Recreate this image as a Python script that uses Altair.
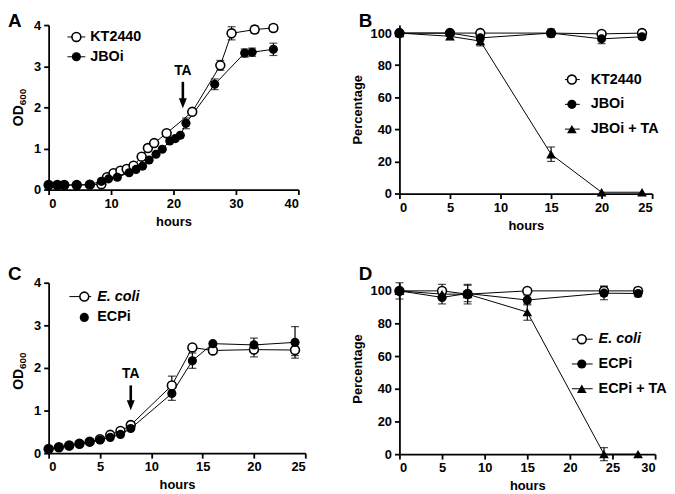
import altair as alt
import pandas as pd

FONT = "Liberation Sans"

# ---------------- Panel A: OD600 vs hours ----------------
a_kt_hours = [0, 1.4, 2.5, 4.5, 6.6, 8.45, 9.35, 10.4, 11.5, 12.5, 13.6, 14.9, 15.9, 16.9, 18.9, 23.0, 27.5, 29.3, 33.0, 36.0]
a_kt_od = [0.11, 0.11, 0.11, 0.11, 0.12, 0.13, 0.30, 0.40, 0.46, 0.50, 0.58, 0.80, 1.01, 1.13, 1.37, 1.89, 3.02, 3.80, 3.89, 3.93]
a_kt_err = [0, 0, 0, 0, 0, 0, 0, 0, 0, 0, 0, 0, 0, 0, 0.05, 0.05, 0.12, 0.16, 0.09, 0.08]
a_jb_hours = [0, 1.4, 2.5, 4.5, 6.6, 8.45, 9.6, 11.0, 12.9, 14.0, 15.05, 16.1, 17.2, 18.2, 19.4, 20.3, 21.1, 22.0, 26.6, 31.4, 32.6, 36.0]
a_jb_od = [0.11, 0.11, 0.11, 0.11, 0.12, 0.20, 0.26, 0.30, 0.41, 0.49, 0.57, 0.72, 0.86, 0.98, 1.18, 1.24, 1.32, 1.61, 2.56, 3.32, 3.34, 3.41]
a_jb_err = [0, 0, 0, 0, 0, 0, 0, 0, 0, 0, 0, 0, 0, 0, 0, 0, 0, 0.13, 0.13, 0.10, 0.10, 0.15]

# ---------------- Panel B: Percentage vs hours ----------------
b_hours = [0, 5, 8, 15, 20, 24]
b_kt = [100, 100, 100, 100, 99.5, 100]
b_kt_err = [0, 0, 0, 1.5, 0, 2]
b_jb = [100, 100, 97, 100, 96.4, 97.7]
b_jb_err = [0, 1, 2, 2.5, 3, 1.5]
b_ta = [100, 98, 95, 24.5, 0.8, 0.8]
b_ta_err = [0, 2, 3, 4.5, 0, 0]

# ---------------- Panel C: OD600 vs hours ----------------
c_hours = [0, 1, 2, 3, 4, 5, 6, 7, 8, 12, 14, 16, 20, 24]
c_ec = [0.10, 0.14, 0.18, 0.22, 0.27, 0.33, 0.43, 0.52, 0.66, 1.59, 2.48, 2.41, 2.43, 2.42]
c_ec_err = [0, 0, 0, 0, 0, 0, 0, 0, 0, 0.22, 0, 0, 0.17, 0.13]
c_ecp = [0.09, 0.14, 0.17, 0.22, 0.26, 0.31, 0.37, 0.44, 0.58, 1.40, 2.17, 2.57, 2.54, 2.60]
c_ecp_err = [0, 0, 0, 0, 0, 0, 0, 0, 0, 0.16, 0.18, 0, 0.16, 0.37]

# ---------------- Panel D: Percentage vs hours ----------------
d_hours = [0, 5, 8, 15, 24, 28]
d_ec = [100, 100, 98, 100, 100, 100]
d_ec_err = [5, 4, 6, 0, 3, 2]
d_ecp = [100, 96, 98.4, 94.4, 98.6, 98.4]
d_ecp_err = [0, 4, 5, 3, 4, 2]
d_ta = [100, 98, 98, 87, 0, 0]
d_ta_err = [0, 0, 0, 5, 4, 0]

# TA annotations (hours, arrow top, shaft end, arrow tip, label baseline)
ta_a = {"hours": [21.5], "top": [2.62], "shaft": [2.10], "tip": [1.98], "label_y": [2.78], "label": ["TA"]}
ta_c = {"hours": [8.0], "top": [1.59], "shaft": [1.13], "tip": [1.01], "label_y": [1.76], "label": ["TA"]}

ARROW_HEAD = "M-1,-2.5L1,-2.5L0,0Z"


def frame(hours, vals, errs, name):
    return pd.DataFrame({"hours": hours, "value": vals, "err": errs, "series": name})


def panel(df, order, kinds, xdom, xticks, ydom, yticks, w, h, ytitle, ytp,
          letter, letter_y, letter_base, legend, ta=None, od_title=None):
    xenc = alt.X("hours:Q", scale=alt.Scale(domain=xdom, nice=False, zero=False),
                 axis=alt.Axis(values=xticks, title="hours", format="d"))
    if ytitle is None:
        yax = alt.Axis(values=yticks, title=None, format="d")
    else:
        yax = alt.Axis(values=yticks, title=ytitle, titlePadding=ytp, format="d")
    ysc = alt.Scale(domain=ydom, nice=False, zero=False)

    base = alt.Chart(df)
    layers = []
    layers.append(base.mark_line(color="black", strokeWidth=1).encode(
        x=xenc, y=alt.Y("value:Q", scale=ysc, axis=yax), detail="series:N"))
    layers.append(base.transform_filter("datum.err > 0").transform_calculate(
        lo="datum.value - datum.err", hi="datum.value + datum.err"
    ).mark_errorbar(ticks=True, color="black", size=8, thickness=1.2).encode(
        x=xenc, y=alt.Y("lo:Q", scale=ysc, axis=yax), y2="hi:Q"))
    for name, kind in zip(order, kinds):
        sub = base.transform_filter(alt.datum.series == name)
        if kind == "open":
            m = sub.mark_circle(fill="white", stroke="black", strokeWidth=1.6, size=80, opacity=1)
        elif kind == "filled":
            m = sub.mark_circle(color="black", size=85, opacity=1)
        else:
            m = sub.mark_point(shape="triangle-up", filled=True, color="black", size=95, opacity=1)
        layers.append(m.encode(x=xenc, y=alt.Y("value:Q", scale=ysc, axis=yax)))

    # TA arrow annotation
    if ta is not None:
        tdf = pd.DataFrame(ta)
        tb = alt.Chart(tdf)
        layers.append(tb.mark_rule(color="black", strokeWidth=2.6).encode(
            x=xenc, y=alt.Y("top:Q", scale=ysc, axis=yax), y2="shaft:Q"))
        layers.append(tb.mark_point(shape=ARROW_HEAD, filled=True, color="black", size=64, opacity=1).encode(
            x=xenc, y=alt.Y("tip:Q", scale=ysc, axis=yax)))
        layers.append(tb.mark_text(font=FONT, fontSize=14, fontWeight="bold", baseline="alphabetic",
                                   align="center", color="black").encode(
            x=xenc, y=alt.Y("label_y:Q", scale=ysc, axis=yax), text="label:N"))

    # manual legend: (label, kind, has_line, italic, y)
    lx0, lx1, cx, tx = legend["line"][0], legend["line"][1], legend["cx"], legend["tx"]
    for label, kind, has_line, italic, yy in legend["items"]:
        ldf = alt.Chart(pd.DataFrame({"label": [label]}))
        if has_line:
            layers.append(ldf.mark_rule(color="black", strokeWidth=1).encode(
                x=alt.value(lx0), x2=alt.value(lx1), y=alt.value(yy)))
        if kind == "open":
            sym = ldf.mark_circle(fill="white", stroke="black", strokeWidth=1.6, size=80, opacity=1)
        elif kind == "filled":
            sym = ldf.mark_circle(color="black", size=85, opacity=1)
        else:
            sym = ldf.mark_point(shape="triangle-up", filled=True, color="black", size=95, opacity=1)
        layers.append(sym.encode(x=alt.value(cx), y=alt.value(yy)))
        layers.append(ldf.mark_text(font=FONT, fontSize=14.5, fontWeight="bold", align="left",
                                    baseline="middle", color="black",
                                    fontStyle="italic" if italic else "normal").encode(
            x=alt.value(tx), y=alt.value(yy), text="label:N"))

    # OD600 axis title with subscript, as rotated text
    if od_title is not None:
        main_txt, sub_txt, bx, by, sy = od_title
        layers.append(alt.Chart(pd.DataFrame({"t": [main_txt]})).mark_text(
            font=FONT, fontSize=14, fontWeight="bold", angle=270, align="left",
            baseline="alphabetic", color="black").encode(
            x=alt.value(bx), y=alt.value(by), text="t:N"))
        layers.append(alt.Chart(pd.DataFrame({"t": [sub_txt]})).mark_text(
            font=FONT, fontSize=10, fontWeight="bold", angle=270, align="left",
            baseline="alphabetic", color="black").encode(
            x=alt.value(bx + 3), y=alt.value(sy), text="t:N"))

    # panel letter
    layers.append(alt.Chart(pd.DataFrame({"letter": [letter]})).mark_text(
        font=FONT, fontSize=19, fontWeight="bold", align="left", baseline=letter_base,
        color="black").encode(x=alt.value(-41), y=alt.value(letter_y), text="letter:N"))

    return alt.layer(*layers).properties(width=w, height=h)


dfA = pd.concat([frame(a_kt_hours, a_kt_od, a_kt_err, "KT2440"),
                 frame(a_jb_hours, a_jb_od, a_jb_err, "JBOi")])
dfB = pd.concat([frame(b_hours, b_kt, b_kt_err, "KT2440"),
                 frame(b_hours, b_jb, b_jb_err, "JBOi"),
                 frame(b_hours, b_ta, b_ta_err, "JBOi + TA")])
dfC = pd.concat([frame(c_hours, c_ec, c_ec_err, "E. coli"),
                 frame(c_hours, c_ecp, c_ecp_err, "ECPi")])
dfD = pd.concat([frame(d_hours, d_ec, d_ec_err, "E. coli"),
                 frame(d_hours, d_ecp, d_ecp_err, "ECPi"),
                 frame(d_hours, d_ta, d_ta_err, "ECPi + TA")])

pA = panel(dfA, ["KT2440", "JBOi"], ["open", "filled"], [0, 40], [0, 10, 20, 30, 40],
           [0, 4], [0, 1, 2, 3, 4], 252, 166, None, 0, "A", -13, "top",
           {"line": [19, 37], "cx": 28, "tx": 42,
            "items": [("KT2440", "open", True, False, 12), ("JBOi", "filled", True, False, 32)]},
           ta=ta_a, od_title=("OD", "600", -26, 102, 81))
pB = panel(dfB, ["KT2440", "JBOi", "JBOi + TA"], ["open", "filled", "tri"], [0, 25],
           [0, 5, 10, 15, 20, 25], [0, 105], [0, 20, 40, 60, 80, 100], 255, 170,
           "Percentage", 6, "B", -13, "top",
           {"line": [167, 182], "cx": 174, "tx": 193,
            "items": [("KT2440", "open", True, False, 55), ("JBOi", "filled", True, False, 80),
                      ("JBOi + TA", "tri", True, False, 105)]})
pC = panel(dfC, ["E. coli", "ECPi"], ["open", "filled"], [0, 25], [0, 5, 10, 15, 20, 25],
           [0, 4], [0, 1, 2, 3, 4], 259, 172, None, 0, "C", -3, "alphabetic",
           {"line": [21, 43], "cx": 36, "tx": 49,
            "items": [("E. coli", "open", True, True, 14), ("ECPi", "filled", False, False, 35)]},
           ta=ta_c, od_title=("OD", "600", -26, 108, 87))
pD = panel(dfD, ["E. coli", "ECPi", "ECPi + TA"], ["open", "filled", "tri"], [0, 30],
           [0, 5, 10, 15, 20, 25, 30], [0, 105], [0, 20, 40, 60, 80, 100], 258, 173,
           "Percentage", 6, "D", -3, "alphabetic",
           {"line": [174, 195], "cx": 184, "tx": 201,
            "items": [("E. coli", "open", True, True, 57), ("ECPi", "filled", True, False, 82),
                      ("ECPi + TA", "tri", True, False, 107)]})

chart = alt.concat(pA, pB, pC, pD, columns=2, spacing={"row": 90, "column": 95}).properties(
    padding={"top": 2, "left": 0, "right": 0, "bottom": 0}, bounds="flush"
).configure_view(stroke=None).configure_axis(
    labelFont=FONT, titleFont=FONT, labelFontSize=13, titleFontSize=13,
    labelFontWeight="bold", titleFontWeight="bold", labelColor="black", titleColor="black",
    domainColor="black", tickColor="black", domainWidth=1.8, tickWidth=1.8, tickSize=5,
    labelPadding=3, titlePadding=5, grid=False
)

chart.save("out.html", embed_options={"renderer": "svg", "actions": False})
